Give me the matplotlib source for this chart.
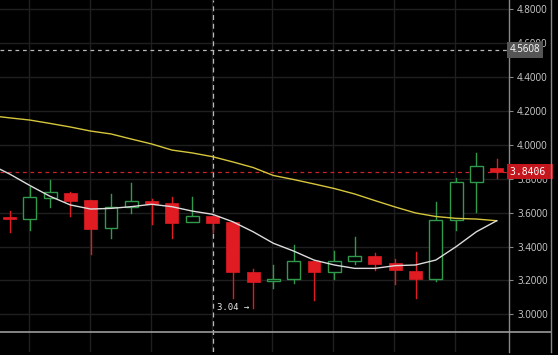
import numpy as np
import matplotlib.pyplot as plt
from matplotlib.lines import Line2D
from matplotlib.patches import Rectangle

# candle data (one candle per period)
opens  = [3.576, 3.560, 3.688, 3.717, 3.674, 3.509, 3.635, 3.668, 3.657, 3.543,
          3.580, 3.545, 3.250, 3.198, 3.206, 3.314, 3.251, 3.314, 3.344, 3.301,
          3.257, 3.206, 3.555, 3.779, 3.865]
highs  = [3.609, 3.753, 3.792, 3.720, 3.675, 3.708, 3.773, 3.680, 3.690, 3.690,
          3.585, 3.545, 3.265, 3.291, 3.409, 3.316, 3.373, 3.458, 3.360, 3.326,
          3.366, 3.664, 3.804, 3.950, 3.914]
lows   = [3.487, 3.497, 3.635, 3.582, 3.354, 3.452, 3.596, 3.533, 3.452, 3.543,
          3.484, 3.098, 3.040, 3.157, 3.183, 3.084, 3.208, 3.295, 3.261, 3.179,
          3.098, 3.196, 3.497, 3.602, 3.804]
closes = [3.560, 3.690, 3.720, 3.670, 3.505, 3.635, 3.668, 3.653, 3.540, 3.582,
          3.540, 3.250, 3.191, 3.210, 3.316, 3.251, 3.316, 3.346, 3.297, 3.261,
          3.208, 3.556, 3.779, 3.877, 3.8406]

# moving averages, first value belongs to the candle before the visible range
ma_fast = [3.887, 3.828, 3.760, 3.696, 3.645, 3.621, 3.625, 3.635, 3.649, 3.635,
           3.609, 3.590, 3.546, 3.487, 3.419, 3.373, 3.320, 3.291, 3.271, 3.271,
           3.287, 3.291, 3.320, 3.399, 3.487, 3.552]
ma_slow = [4.173, 4.159, 4.146, 4.126, 4.105, 4.081, 4.064, 4.034, 4.005, 3.969,
           3.952, 3.930, 3.899, 3.866, 3.819, 3.795, 3.769, 3.742, 3.710, 3.671,
           3.633, 3.598, 3.577, 3.566, 3.562, 3.552]

yticks = [3.0, 3.2, 3.4, 3.6, 3.8, 4.0, 4.2, 4.4, 4.6, 4.8]
last_price = 3.8406
cross_price = 4.5608
cross_idx = 10
low_idx = 12

RED = '#e01b22'
GREEN = '#2f9a4c'

W, H = 558, 355
fig = plt.figure(figsize=(W / 100, H / 100), dpi=100, facecolor='black')
ax = fig.add_axes([0, 3 / H, 508.7 / W, 1 - 3 / H])
ax.set_facecolor('black')

# pixel -> data mapping
px_per_unit = 169.5
y3 = 314.3
ax.set_ylim(3.0 - (H - 3 - y3) / px_per_unit, 3.0 + y3 / px_per_unit)
ax.set_xlim(-9.5 / 20.3, (508.7 - 9.5) / 20.3)

ax.set_yticks(yticks)
ax.set_yticklabels(['%.4f' % v for v in yticks])
ax.set_xticks([(x - 9.5) / 20.3 for x in [29, 90, 151, 212, 272, 333, 394, 455]])
ax.grid(True, color='#1f1f1f', lw=1)
ax.tick_params(axis='x', length=0, labelbottom=False)
ax.yaxis.tick_right()
ax.tick_params(axis='y', colors='#888888', labelcolor='#d0d0d0', length=3,
               width=0.8, pad=3, labelsize=7)
for lab in ax.get_yticklabels():
    lab.set_fontfamily('Open Sans')
for side in ['top', 'left', 'bottom']:
    ax.spines[side].set_visible(False)
ax.spines['right'].set_color('#888888')
ax.spines['right'].set_linewidth(1)

idx = np.arange(len(opens))
body_w = 0.64
for i in idx:
    o, h, l, c = opens[i], highs[i], lows[i], closes[i]
    if c >= o:
        ax.plot([i, i], [l, o], color=GREEN, lw=1, zorder=3)
        ax.plot([i, i], [c, h], color=GREEN, lw=1, zorder=3)
        ax.add_patch(Rectangle((i - body_w / 2, o), body_w, c - o, fc='black',
                               ec=GREEN, lw=1, zorder=3))
    else:
        ax.plot([i, i], [l, h], color=RED, lw=1, zorder=3)
        ax.add_patch(Rectangle((i - body_w / 2, c), body_w, o - c, fc=RED,
                               ec=RED, lw=0.5, zorder=3))

ma_x = np.arange(-1, len(opens))
ax.plot(ma_x, ma_slow, color='#d6c63c', lw=1, zorder=4)
ax.plot(ma_x, ma_fast, color='#dcdcdc', lw=1, zorder=4)

# price lines and crosshair
ax.axhline(last_price, color='#c8242a', lw=0.9, ls=(0, (3, 3)), zorder=2)
ax.axhline(cross_price, color='#b8b8b8', lw=0.9, ls=(0, (3, 3)), zorder=2)
ax.axvline(cross_idx, color='#b8b8b8', lw=0.9, ls=(0, (4, 3)), zorder=2)

ytr = ax.get_yaxis_transform()
ax.text(1.002, cross_price, '4.5608', transform=ytr, ha='left', va='center',
        color='white', fontsize=7, family='Open Sans', clip_on=False, zorder=6,
        bbox=dict(boxstyle='square,pad=0.25', fc='#555555', ec='none'))
ax.text(1.002, last_price, '3.8406 ', transform=ytr, ha='left', va='center',
        color='white', fontsize=7, family='DejaVu Sans Mono', clip_on=False,
        zorder=6, bbox=dict(boxstyle='square,pad=0.25', fc='#c4161c', ec='none'))

ax.text(low_idx - 0.18, lows[low_idx], '3.04 \u2192', ha='right', va='center',
        color='#e8e8e8', fontsize=6.5, family='DejaVu Sans Mono', zorder=6)

# separator above the time axis strip and right edge
fig.add_artist(Line2D([0, 551 / W], [1 - 332.3 / H] * 2, color='#9a9a9a', lw=1.2))
fig.add_artist(Line2D([551 / W] * 2, [3 / H, 1], color='#888888', lw=1))

fig.savefig('out.png', dpi=100, facecolor='black')
